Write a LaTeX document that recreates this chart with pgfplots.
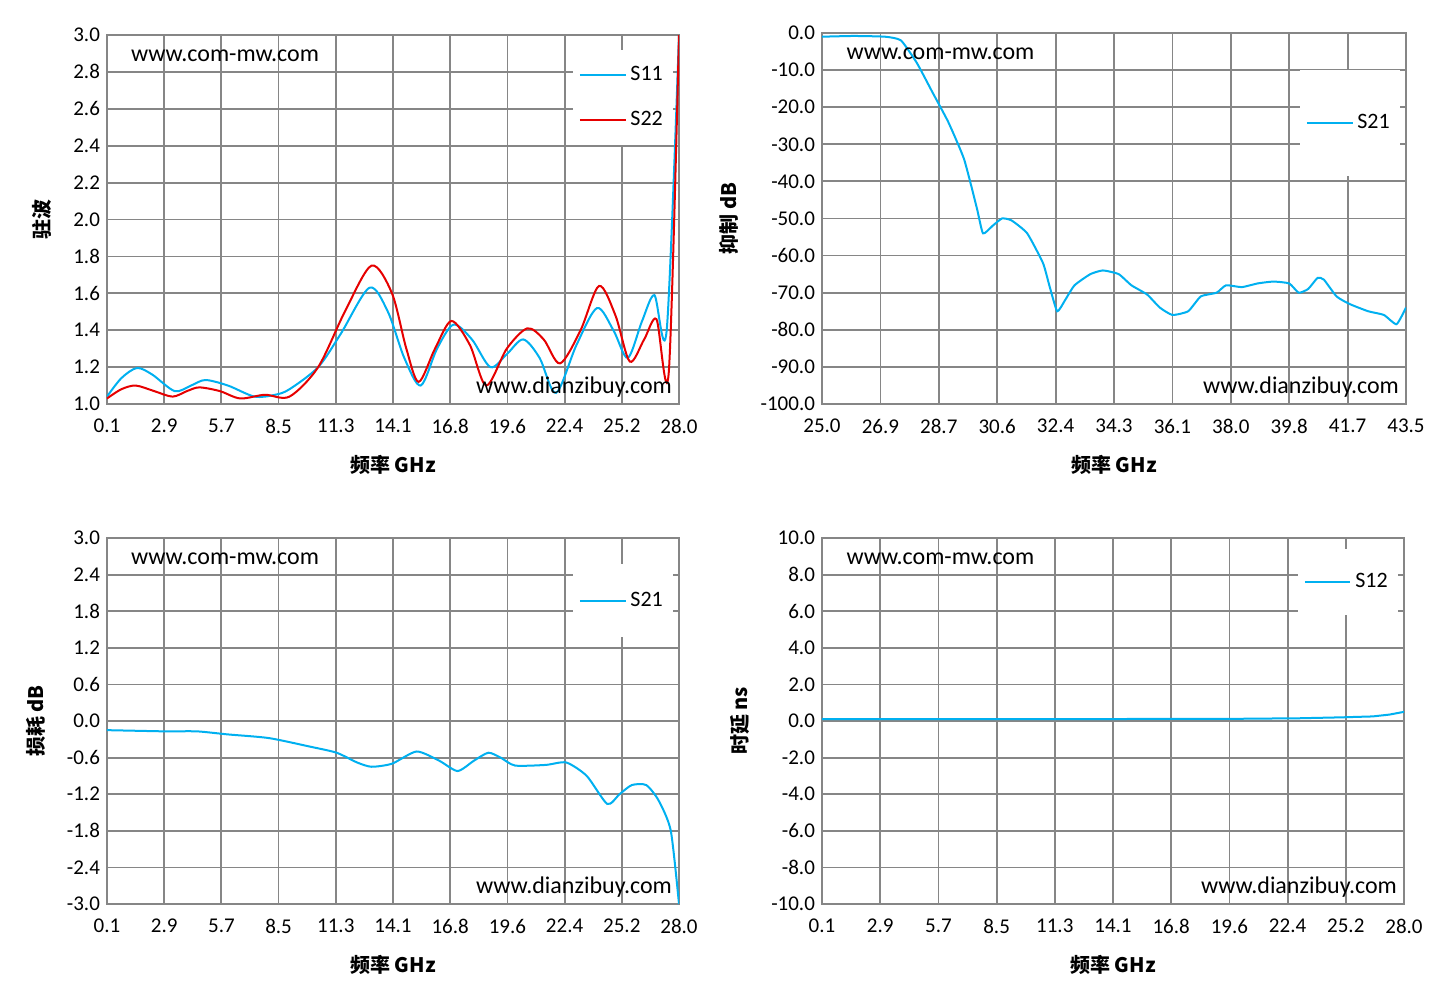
\documentclass[border=0pt]{standalone}
\usepackage{pgfplots}
\pgfplotsset{compat=1.18}
\usepackage{fontspec}
\setmainfont{Carlito}
\newfontfamily\cjk{Noto Sans CJK SC}
\definecolor{sc}{RGB}{0,176,240}
\definecolor{sr}{RGB}{230,0,0}
\definecolor{gr}{RGB}{134,134,134}
\pgfplotsset{
 base/.style={scale only axis, font=\fontsize{10.5}{12}\selectfont,
  /pgf/number format/assume math mode=true,
  /pgf/number format/fixed,/pgf/number format/fixed zerofill,/pgf/number format/precision=1,
  grid=both, major grid style={gr,line width=0.9pt}, axis line style={gr,line width=0.9pt},
  tick style={draw=none}, xtick=data,
  enlargelimits=false,
  xticklabel style={yshift=-4pt},
  every axis plot/.append style={line width=1pt, no marks},
  xlabel style={font=\cjk\bfseries\fontsize{10}{12}\selectfont, yshift=-4pt},
  ylabel style={font=\cjk\bfseries\fontsize{10}{12}\selectfont, yshift=4pt},
  legend style={draw=none, fill=white, font=\fontsize{11}{13}\selectfont, anchor=north east, legend cell align=left, row sep=8pt, inner ysep=6pt},
  legend image post style={line width=1pt},
  legend image code/.code={\draw[mark repeat=2,mark phase=2] plot coordinates {(0cm,0cm) (0.4cm,0cm) (0.8cm,0cm)};},
 },
 xa/.style={xmin=0.1,xmax=28.0,xtick={0.1,2.89,5.68,8.47,11.26,14.05,16.84,19.63,22.42,25.21,28.0},
  xticklabels={0.1,2.9,5.7,8.5,11.3,14.1,16.8,19.6,22.4,25.2,28.0}, xlabel={频率 GHz}},
}
\newcommand{\wm}{\node[anchor=north west,font=\fontsize{12}{14}\selectfont] at (rel axis cs:0.03,0.98) {www.com-mw.com};
 \node[anchor=south east,font=\fontsize{12}{14}\selectfont] at (rel axis cs:1,0.0) {www.dianzibuy.com};}
\begin{document}
\begin{tikzpicture}
\path (0,0) rectangle (721pt,499pt);
% top-left
\begin{axis}[base, xa, at={(53.5pt,297pt)}, anchor=south west, width=286pt, height=184.5pt,
 ymin=1,ymax=3,ytick={1,1.2,...,3.01}, ylabel={驻波},
 legend style={at={(rel axis cs:0.99,0.96)}, row sep=10pt}]
\addplot[sc, smooth, tension=0.5] coordinates {(0.1,1.04)(0.8,1.14)(1.56,1.195)(2.3,1.16)(3.4,1.07)(4.2,1.1)(4.9,1.13)(6,1.1)(7.3,1.04)(8.3,1.05)(9.0,1.08)(10.4,1.2)(11.5,1.38)(12.9,1.63)(13.8,1.5)(14.6,1.25)(15.4,1.1)(16.2,1.3)(17.0,1.43)(17.9,1.35)(18.8,1.2)(19.6,1.27)(20.4,1.35)(21.2,1.25)(22.0,1.06)(23.0,1.32)(24.0,1.52)(24.8,1.4)(25.5,1.25)(26.2,1.45)(26.8,1.59)(27.4,1.4)(28.0,3.0)};
\addlegendentry{S11}
\addplot[sr, smooth, tension=0.5] coordinates {(0.1,1.03)(0.8,1.08)(1.5,1.1)(2.4,1.07)(3.3,1.04)(4.0,1.07)(4.6,1.09)(5.6,1.07)(6.6,1.03)(7.8,1.05)(9.0,1.04)(10.4,1.2)(11.7,1.5)(13.0,1.75)(14.0,1.6)(14.7,1.3)(15.3,1.12)(16.1,1.3)(16.9,1.45)(17.8,1.32)(18.6,1.1)(19.6,1.3)(20.6,1.41)(21.4,1.35)(22.2,1.22)(23.2,1.4)(24.1,1.64)(24.9,1.48)(25.6,1.23)(26.3,1.35)(26.9,1.46)(27.5,1.17)(28.0,3.0)};
\addlegendentry{S22}
\wm
\end{axis}
% top-right
\begin{axis}[base, at={(411pt,297pt)}, anchor=south west, width=292pt, height=185.5pt,
 xmin=25,xmax=43.5, xtick={25,26.85,...,43.6}, xticklabels={25.0,26.9,28.7,30.6,32.4,34.3,36.1,38.0,39.8,41.7,43.5},
 xlabel={频率 GHz}, ymin=-100,ymax=0,ytick={-100,-90,...,0}, ylabel={抑制 dB},
 legend style={at={(rel axis cs:0.99,0.9)}, inner ysep=20pt}]
\addplot[sc, smooth, tension=0.3] coordinates {(25,-1)(26,-0.8)(27,-1)(27.5,-2)(28,-8)(28.5,-16)(29,-24)(29.5,-34)(29.9,-47)(30.1,-54)(30.4,-52)(30.7,-50)(31.0,-50.5)(31.5,-54)(32.0,-62)(32.2,-68)(32.45,-75)(32.7,-72)(33.0,-68)(33.5,-65)(33.9,-64)(34.4,-65)(34.8,-68)(35.3,-70.5)(35.7,-74)(36.1,-76)(36.6,-75)(37.0,-71)(37.5,-70)(37.8,-68)(38.3,-68.5)(38.8,-67.5)(39.3,-67)(39.8,-67.5)(40.1,-70)(40.4,-69)(40.7,-66)(40.9,-66.5)(41.3,-71)(41.7,-73)(42.3,-75)(42.8,-76)(43.2,-78.5)(43.5,-74)};
\addlegendentry{S21}
\wm
\end{axis}
% bottom-left
\begin{axis}[base, xa, at={(53.5pt,47pt)}, anchor=south west, width=286pt, height=183pt,
 ymin=-3,ymax=3,ytick={-3,-2.4,...,3.01}, ylabel={损耗 dB},
 legend style={at={(rel axis cs:0.99,0.93)}, inner ysep=12pt}]
\addplot[sc, smooth, tension=0.4] coordinates {(0.1,-0.15)(1.5,-0.16)(3,-0.17)(4.5,-0.17)(6,-0.22)(8,-0.28)(10,-0.42)(11.3,-0.52)(12.3,-0.68)(13.0,-0.75)(14.0,-0.7)(15.2,-0.5)(16.3,-0.65)(17.2,-0.82)(18.0,-0.65)(18.7,-0.52)(19.3,-0.6)(20.0,-0.73)(21.5,-0.72)(22.5,-0.68)(23.5,-0.9)(24.5,-1.36)(25.1,-1.2)(25.7,-1.05)(26.4,-1.05)(27.0,-1.3)(27.6,-1.8)(28,-3.0)};
\addlegendentry{S21}
\wm
\end{axis}
% bottom-right
\begin{axis}[base, xa, at={(411pt,47pt)}, anchor=south west, width=291pt, height=183pt,
 ymin=-10,ymax=10,ytick={-10,-8,...,10.1}, ylabel={时延 ns},
 legend style={at={(rel axis cs:0.99,0.97)}, inner ysep=10pt}]
\addplot[sc] coordinates {(0.1,0.1)(10,0.1)(20,0.12)(23,0.15)(25,0.2)(26.5,0.25)(27.3,0.35)(28,0.5)};
\addlegendentry{S12}
\wm
\end{axis}
\end{tikzpicture}
\end{document}
